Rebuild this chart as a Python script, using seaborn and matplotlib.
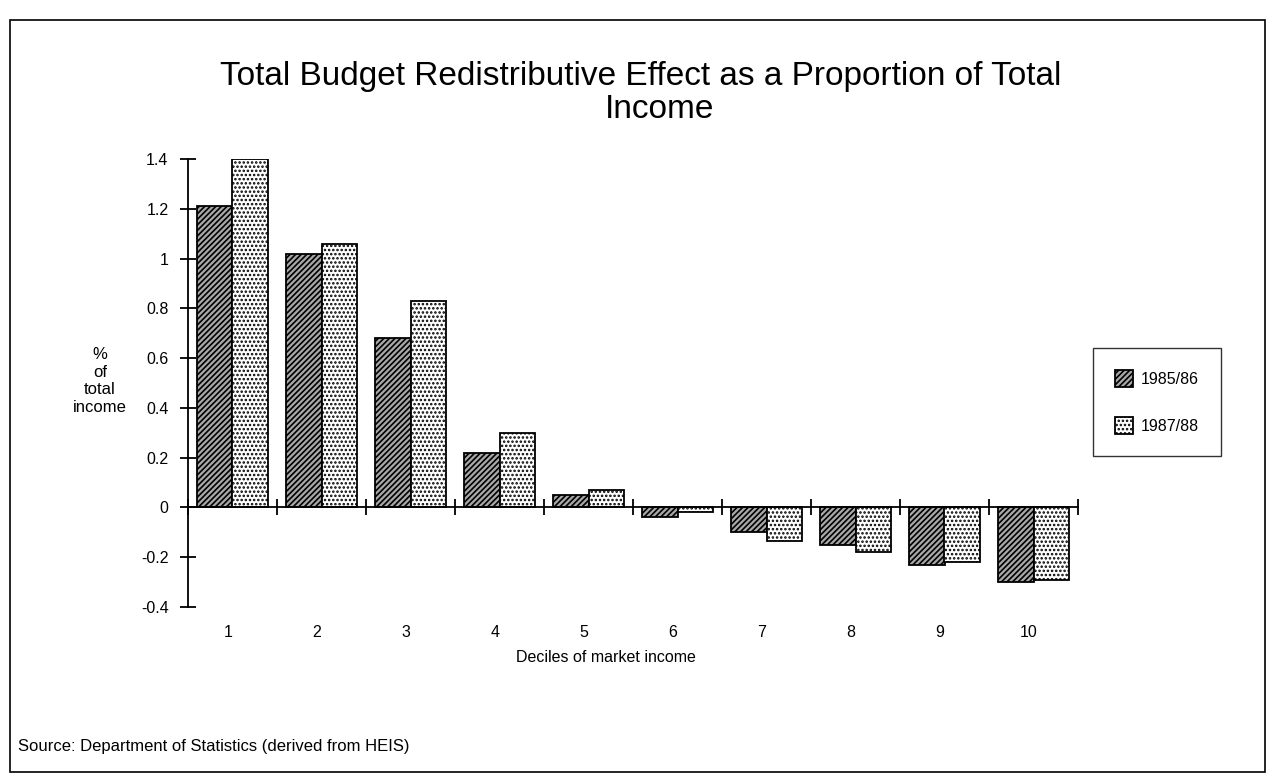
import matplotlib
matplotlib.use("Agg")
import matplotlib.pyplot as plt
import matplotlib.transforms as mtransforms
from matplotlib.patches import Rectangle
import seaborn as sns
import pandas as pd

# Redistributive effect by decile of market income (% of total income)
deciles = ["1", "2", "3", "4", "5", "6", "7", "8", "9", "10"]
years = ["1985/86", "1987/88"]
effect_1985_86 = [1.21, 1.02, 0.68, 0.22, 0.05, -0.04, -0.10, -0.15, -0.23, -0.30]
effect_1987_88 = [1.40, 1.06, 0.83, 0.30, 0.07, -0.02, -0.135, -0.18, -0.22, -0.29]
y_ticks = [-0.4, -0.2, 0, 0.2, 0.4, 0.6, 0.8, 1, 1.2, 1.4]
y_tick_labels = ["-0.4", "-0.2", "0", "0.2", "0.4", "0.6", "0.8", "1", "1.2", "1.4"]

df = pd.DataFrame({
    "decile": deciles * 2,
    "effect": effect_1985_86 + effect_1987_88,
    "year": [years[0]] * len(deciles) + [years[1]] * len(deciles),
})

sns.set_theme(style="white")
plt.rcParams["font.family"] = ["Liberation Sans", "DejaVu Sans"]
plt.rcParams["hatch.linewidth"] = 1.2
plt.rcParams["hatch.color"] = "black"
plt.rcParams["text.color"] = "black"

W, H = 1277, 782
fig = plt.figure(figsize=(W / 100, H / 100), dpi=100)
fig.patch.set_facecolor("white")

left, right, top, bottom = 188, 1078, 159, 607
ax = fig.add_axes([left / W, 1 - bottom / H, (right - left) / W, (bottom - top) / H])

# screened fills: dense stripes on grey for 1985/86, fine dots for 1987/88
fills = ["#a8a8a8", "#ffffff"]
sns.barplot(data=df, x="decile", y="effect", hue="year", order=deciles,
            hue_order=years, palette=fills, width=0.8, gap=0, saturation=1,
            edgecolor="black", linewidth=1.3, legend=False, ax=ax)

hatches = ["//////", "...."]
for container, hatch in zip(ax.containers, hatches):
    for bar in container:
        bar.set_hatch(hatch)
        bar.set_edgecolor("black")

ax.set_facecolor("white")
ax.set_xlim(-0.5, len(deciles) - 0.5)
ax.set_ylim(-0.4, 1.4)
for side in ("top", "right"):
    ax.spines[side].set_visible(False)
ax.spines["bottom"].set_position(("data", 0))
for side in ("bottom", "left"):
    ax.spines[side].set_linewidth(1.3)
    ax.spines[side].set_color("black")

ax.set_yticks(y_ticks)
ax.set_yticklabels(y_tick_labels, fontsize=11.5)
ax.tick_params(axis="y", direction="inout", length=12, width=1.3, pad=8,
               left=True, color="black", labelcolor="black")

# boundary ticks between decile groups on the zero line
ax.set_xticks([i - 0.5 for i in range(len(deciles) + 1)])
ax.set_xticklabels([])
ax.tick_params(axis="x", direction="inout", length=12, width=1.3, bottom=True,
               color="black")
ax.set_xlabel("")
ax.set_ylabel("")

# decile labels sit below the plotting area
trans = mtransforms.blended_transform_factory(ax.transData, ax.transAxes)
for i, d in enumerate(deciles):
    ax.text(i - 0.05, -0.04, d, transform=trans, ha="center", va="top",
            fontsize=11.5, color="black")

fig.text(606 / W, 1 - 658 / H, "Deciles of market income", ha="center",
         va="center", fontsize=11.5)
fig.text(100 / W, 1 - 381 / H, "%\nof\ntotal\nincome", ha="center",
         va="center", fontsize=12, linespacing=1.2)

fig.text(641 / W, 1 - 77 / H,
         "Total Budget Redistributive Effect as a Proportion of Total",
         ha="center", va="center", fontsize=24)
fig.text(660 / W, 1 - 109 / H, "Income", ha="center", va="center", fontsize=24)

fig.text(18 / W, 1 - 746 / H, "Source: Department of Statistics (derived from HEIS)",
         ha="left", va="center", fontsize=12)

leg = fig.legend(handles=ax.containers, labels=years, loc="center",
                 bbox_to_anchor=(1157 / W, 1 - 402 / H), frameon=True,
                 fancybox=False, edgecolor="black", fontsize=11.5,
                 handlelength=1.1, handleheight=1.2, labelspacing=1.9,
                 borderpad=1.4, handletextpad=0.5, borderaxespad=0)
leg.get_frame().set_linewidth(1.0)

# outer frame around the whole exhibit
fig.add_artist(Rectangle((10 / W, 1 - 772 / H), (1265 - 10) / W, (772 - 20) / H,
                         transform=fig.transFigure, fill=False,
                         edgecolor="black", linewidth=1.2))

fig.savefig("out.png", dpi=100, facecolor="white")
